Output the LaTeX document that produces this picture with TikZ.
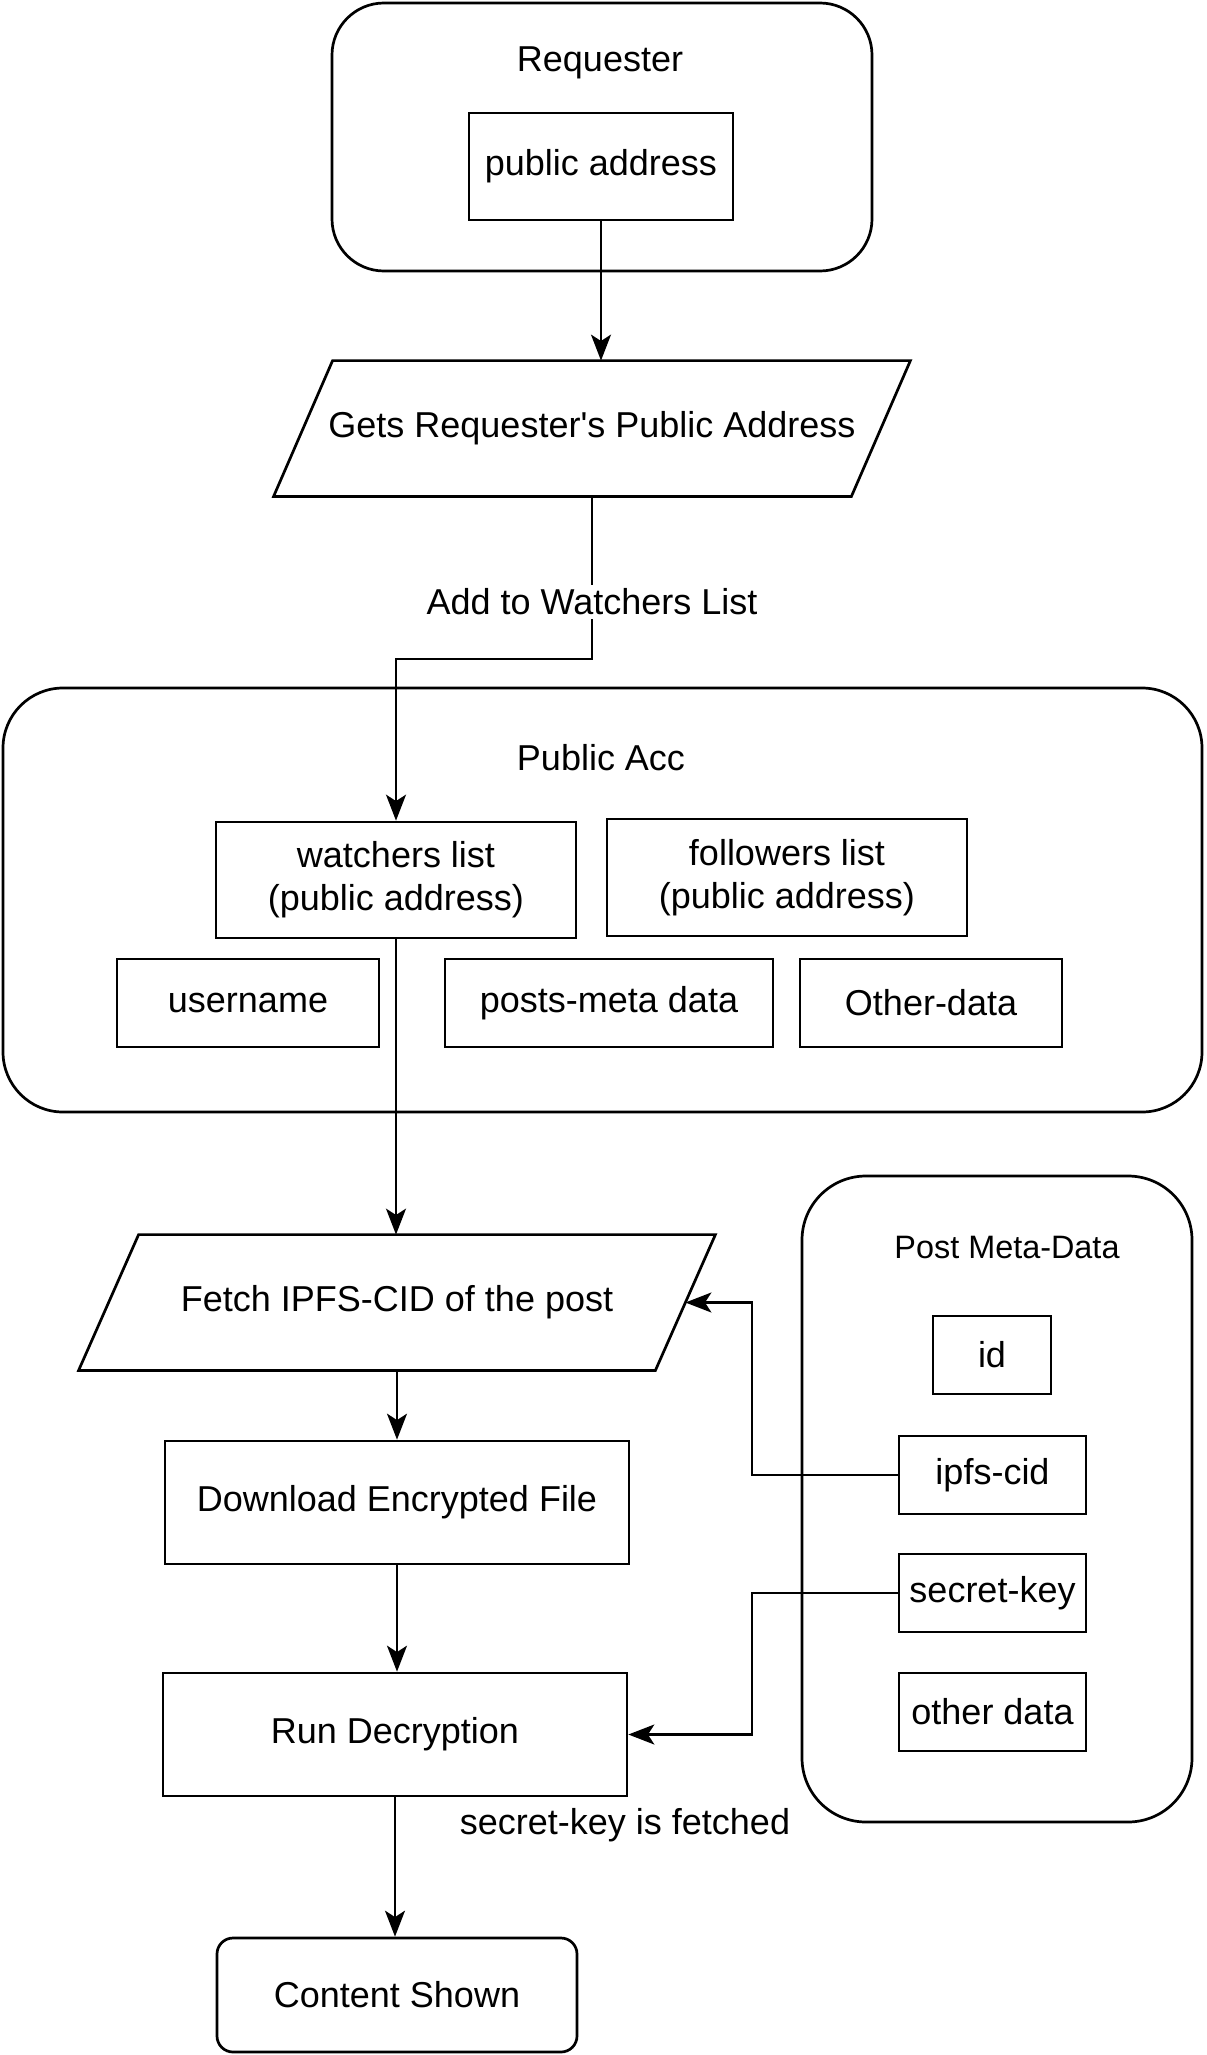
\documentclass[tikz,border=0pt]{standalone}
\usepackage{fontspec}
\setmainfont{Liberation Sans}
\usetikzlibrary{arrows.meta,calc}
\begin{document}
\begin{tikzpicture}[x=0.5pt,y=-0.5pt,
  mainfont/.style={font=\fontsize{18}{21.5}\selectfont},
  container/.style={draw, line width=1.35pt, inner sep=0pt},
  box/.style={draw, line width=1.35pt, inner sep=0pt, align=center, mainfont},
  txt/.style={inner sep=1pt, align=center, mainfont},
  para/.style={inner sep=0pt, minimum width=318pt, minimum height=67.5pt, align=center, mainfont},
  outline/.style={draw, line width=1.35pt, line join=miter},
  arr/.style={-{Stealth[length=13pt,width=10pt,inset=3.2pt]}, line width=1.05pt},
  lbl/.style={fill=white, inner sep=2pt, mainfont}]
\useasboundingbox (0,0) rectangle (1206,2055);

% Requester
\node[container, minimum width=270pt, minimum height=134pt, rounded corners=26pt] (requester) at (602,137) {};
\node[txt] (reqtitle) at (600,63) {Requester};
\node[box, minimum width=132pt, minimum height=53.5pt] (pubaddr) at (601,166.5) {public address};

% Gets parallelogram
\node[para] (gets) at (592,428.5) {Gets Requester\textquotesingle s Public Address};
\draw[outline] ([xshift=29.5pt]gets.north west) -- (gets.north east) -- ([xshift=-29.5pt]gets.south east) -- (gets.south west) -- cycle;

% Public Acc
\node[container, minimum width=599.5pt, minimum height=212pt, rounded corners=30pt] (pubacc) at (602.5,900) {};
\node[txt] (acctitle) at (601,758) {Public Acc};
\node[box, minimum width=180pt, minimum height=58pt] (watchers) at (396,880) {watchers list\\(public address)};
\node[box, minimum width=180pt, minimum height=58.5pt] (followers) at (787,877.5) {followers list\\(public address)};
\node[box, minimum width=131pt, minimum height=44pt] (username) at (248,1003) {username};
\node[box, minimum width=164pt, minimum height=44pt] (postsmeta) at (609,1003) {posts-meta data};
\node[box, minimum width=131pt, minimum height=44pt] (otherdata) at (931,1003) {Other-data};

% Fetch parallelogram
\node[para] (fetch) at (397,1302.5) {Fetch IPFS-CID of the post};
\draw[outline] ([xshift=30pt]fetch.north west) -- (fetch.north east) -- ([xshift=-30pt]fetch.south east) -- (fetch.south west) -- cycle;
\coordinate (fetchR) at ($(fetch.north east)!0.5!([xshift=-30pt]fetch.south east)$);

% Post Meta-Data
\node[container, minimum width=195pt, minimum height=323pt, rounded corners=32pt] (postmeta) at (997,1499) {};
\node[inner sep=1pt, font=\fontsize{16.2}{19}\selectfont] (pmtitle) at (1007,1247) {Post Meta-Data};
\node[box, minimum width=59pt, minimum height=39pt] (id) at (992,1355) {id};
\node[box, minimum width=93.5pt, minimum height=39pt] (ipfscid) at (992.5,1475) {ipfs-cid};
\node[box, minimum width=93.5pt, minimum height=39pt] (secretkey) at (992.5,1593) {secret-key};
\node[box, minimum width=93.5pt, minimum height=39pt] (otherdata2) at (992.5,1712) {other data};

% Process
\node[box, minimum width=232pt, minimum height=61.5pt] (download) at (397,1502.5) {Download Encrypted File};
\node[box, minimum width=232pt, minimum height=61.5pt] (rundec) at (395,1734.5) {Run Decryption};
\node[box, minimum width=180pt, minimum height=57pt, rounded corners=8pt] (content) at (397,1995) {Content Shown};
\node[txt] (fetchedlbl) at (625,1825) {secret-key is fetched};

% Connectors
\draw[arr] (pubaddr.south) -- (pubaddr.south |- gets.north);
\coordinate (j1) at (592,659);
\draw[arr] (gets.south) -- node[lbl, pos=0.65] (addlbl) {Add to Watchers List} (j1) -| (watchers.north);
\draw[arr] (watchers.south) -- (watchers.south |- fetch.north);
\draw[arr] (download.north |- fetch.south) -- (download.north);
\draw[arr] (download.south) -- (download.south |- rundec.north);
\draw[arr] (rundec.south) -- (rundec.south |- content.north);
\draw[arr] (ipfscid.west) -- ++(-146,0) |- (fetchR);
\draw[arr] (secretkey.west) -- ++(-146,0) |- (rundec.east);
\end{tikzpicture}
\end{document}
